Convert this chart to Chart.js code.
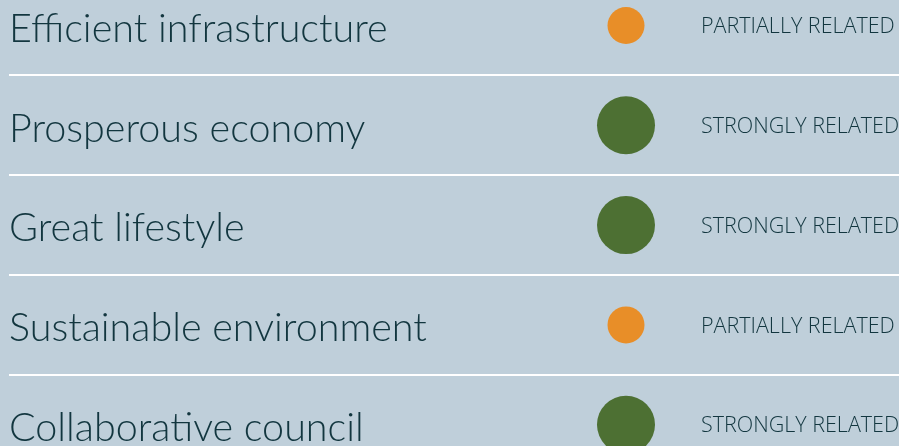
<!DOCTYPE html>
<html>
<head>
<meta charset="utf-8">
<script src="https://cdn.jsdelivr.net/npm/chart.js@4"></script>
<style>
  html, body { margin: 0; padding: 0; background: #bfcfda; overflow: hidden; }
  #chart { display: block; }
</style>
</head>
<body>
<canvas id="chart" width="899" height="446"></canvas>
<script>
    "use strict";

    // Goals and how strongly each one is related
    var goals = ["Efficient infrastructure", "Prosperous economy", "Great lifestyle", "Sustainable environment", "Collaborative council"];
    var relationLabels = ["PARTIALLY RELATED", "STRONGLY RELATED", "STRONGLY RELATED", "PARTIALLY RELATED", "STRONGLY RELATED"];
    var strength = [1, 2, 2, 1, 2]; // 1 = partial, 2 = strong

    var TEXT = "#12363f";
    var LINE = "#ffffff";
    var colors = { 1: "#e88e28", 2: "#4d7033" };
    var radius = { 1: 18.5, 2: 29 };

    var LEFT_W = 542;   // width of the goal label column
    var RIGHT_W = 198;  // width of the relation label column

    var points = goals.map(function (g, i) {
        return { x: "rating", y: i };
    });

    function fixedTicks(scale) {
        scale.ticks = goals.map(function (g, i) { return { value: i }; });
    }

    // fixed column width, and no extra room kept for the end labels
    function fitTo(w) {
        return function (scale) {
            scale.width = w;
            scale.paddingTop = 0;
            scale.paddingBottom = 0;
        };
    }

    var ctx = document.getElementById("chart").getContext("2d");
    var chart = new Chart(ctx, {
        type: "scatter",
        data: {
            datasets: [{
                data: points,
                pointRadius: function (c) { return radius[strength[c.dataIndex]]; },
                pointHoverRadius: function (c) { return radius[strength[c.dataIndex]]; },
                pointBackgroundColor: function (c) { return colors[strength[c.dataIndex]]; },
                pointBorderWidth: 0,
                clip: false
            }]
        },
        options: {
            responsive: false,
            animation: false,
            devicePixelRatio: 1,
            layout: { autoPadding: false, padding: { left: 9, right: 0, top: 0, bottom: 0 } },
            plugins: { legend: { display: false }, tooltip: { enabled: false } },
            scales: {
                x: {
                    type: "category",
                    labels: ["rating"],
                    offset: true,
                    display: false
                },
                y: {
                    type: "linear",
                    position: "left",
                    reverse: true,
                    min: -0.2555,
                    max: 4.2134,
                    afterBuildTicks: fixedTicks,
                    afterFit: fitTo(LEFT_W),
                    border: { display: false },
                    grid: {
                        offset: true,
                        color: LINE,
                        lineWidth: 2,
                        drawTicks: true,
                        tickLength: LEFT_W
                    },
                    ticks: {
                        crossAlign: "far",
                        labelOffset: 3.5,
                        color: TEXT,
                        font: { family: "Lato", size: 39.5, weight: 300 },
                        callback: function (v) { return goals[v]; }
                    }
                },
                y2: {
                    type: "linear",
                    position: "right",
                    reverse: true,
                    min: -0.2555,
                    max: 4.2134,
                    afterBuildTicks: fixedTicks,
                    afterFit: fitTo(RIGHT_W),
                    border: { display: false },
                    grid: {
                        offset: true,
                        color: LINE,
                        lineWidth: 2,
                        drawOnChartArea: false,
                        drawTicks: true,
                        tickLength: RIGHT_W
                    },
                    ticks: {
                        crossAlign: "near",
                        padding: -RIGHT_W,
                        labelOffset: 1.5,
                        color: TEXT,
                        font: { family: "Open Sans", size: 21.5, weight: 300 },
                        callback: function (v) { return relationLabels[v]; }
                    }
                }
            }
        }
    });
</script>
</body>
</html>
